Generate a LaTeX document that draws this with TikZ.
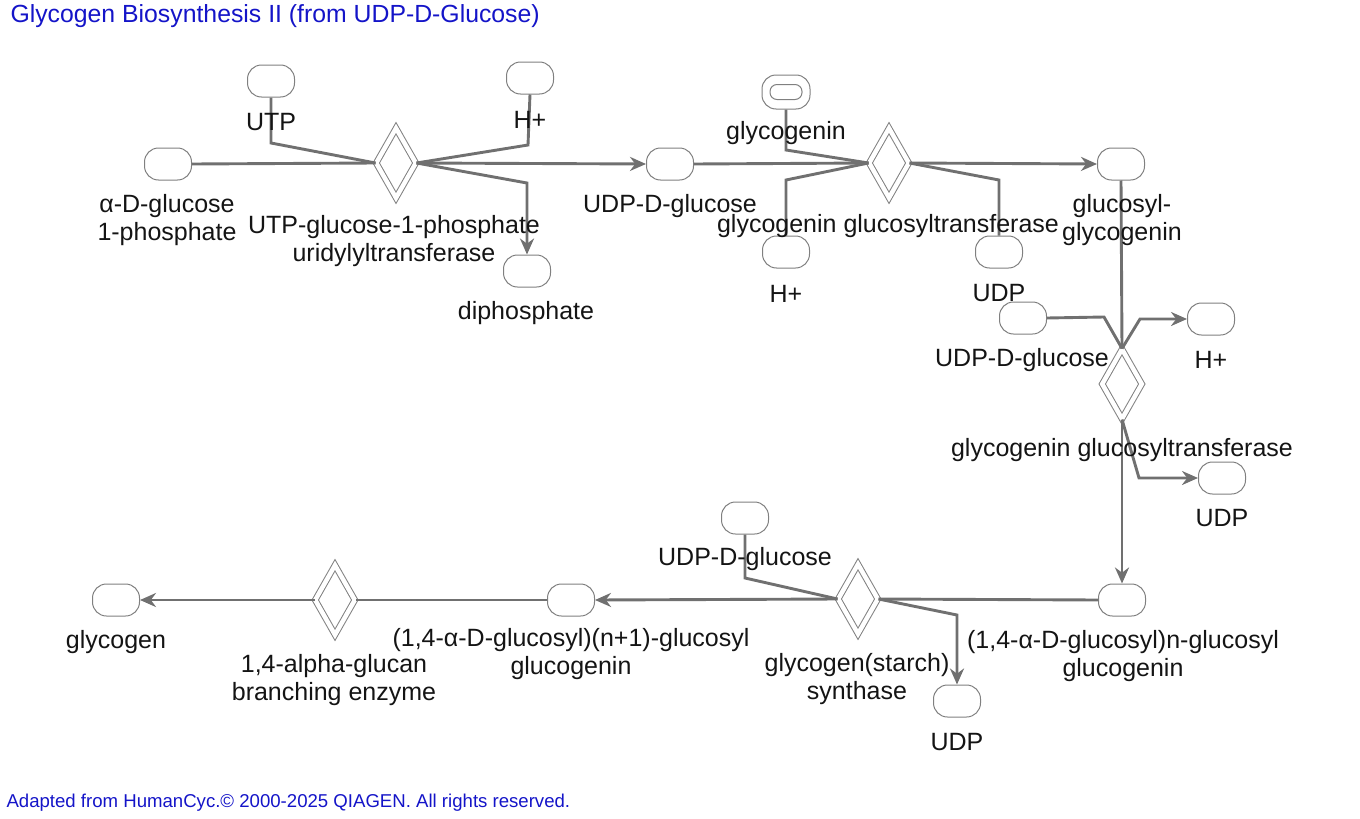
\documentclass[tikz,border=0pt]{standalone}
\usepackage{fontspec}
\setmainfont{Liberation Sans}
\usetikzlibrary{shapes.geometric,arrows.meta}
\definecolor{lnkgray}{RGB}{112,112,112}
\definecolor{ovgray}{RGB}{128,128,128}
\definecolor{ttlblue}{RGB}{20,20,200}

\begin{document}
\begin{tikzpicture}[x=1pt, y=-1pt,
	every node/.style={font=\fontsize{25}{28}\selectfont, text=black!92},
	met/.style={draw=ovgray, line width=1pt, rounded corners=14pt, minimum width=47pt, minimum height=32pt, inner sep=0pt},
	rxn/.style={diamond, draw=ovgray, line width=1pt, double=white, double distance=4.5pt, minimum width=40pt, minimum height=70pt, inner sep=0pt},
	lnk/.style={draw=lnkgray, line width=2.9pt},
	arr/.style={lnk, -{Stealth[length=16pt,width=14pt]}}]
		\useasboundingbox (0,0) rectangle (1360,819);
		\node[anchor=west, text=ttlblue, font=\fontsize{24.8}{28}\selectfont] (title) at (7,16) {Glycogen Biosynthesis II (from UDP-D-Glucose)};
		\node[anchor=west, text=ttlblue, font=\fontsize{18.6}{21}\selectfont] (foot) at (3,803) {Adapted from HumanCyc.© 2000-2025 QIAGEN. All rights reserved.};
		% metabolites
		\node[met] (agp) at (168,164) {};
		\node[met] (utp) at (271,81) {};
		\node[met] (h1) at (530,78) {};
		\node[met] (pp) at (527,271) {};
		\node[met] (udpg1) at (670,164) {};
		\node[met, minimum height=34pt, minimum width=48pt] (gn) at (786,92) {};
		\node[met, minimum width=32pt, minimum height=15pt, rounded corners=7pt] (gnin) at (786,92) {};
		\node[met] (h2) at (786,252) {};
		\node[met] (u2) at (999,252) {};
		\node[met] (gg) at (1121,164) {};
		\node[met] (ug3) at (1023,318) {};
		\node[met] (h3) at (1211,319) {};
		\node[met] (u3) at (1222,478) {};
		\node[met] (gn1) at (1122,600) {};
		\node[met] (ug4) at (745,518) {};
		\node[met] (u4) at (957,701) {};
		\node[met] (gn2) at (571,600) {};
		\node[met] (gly) at (116,600) {};
		% reactions
		\node[rxn] (r1) at (396,163) {};
		\node[rxn] (r2) at (889,163) {};
		\node[rxn] (r3) at (1122,384) {};
		\node[rxn] (r4) at (858,599) {};
		\node[rxn] (r5) at (335,600) {};
		% reaction 1
		\coordinate (utpB) at (271,143);
		\coordinate (h1B) at (528,145);
		\coordinate (ppB) at (527,183);
		\draw[lnk] (agp.east) -- (r1.west);
		\draw[lnk] (utp.south) -- (utpB) -- (r1.west);
		\draw[lnk] (r1.east) -- (h1B) -- (h1.south);
		\draw[arr] (r1.east) -- (ppB) -- (pp.north);
		\draw[arr] (r1.east) -- (udpg1.west);
		% reaction 2
		\coordinate (gnB) at (786,150);
		\coordinate (h2B) at (786,180);
		\coordinate (u2B) at (999,180);
		\draw[lnk] (udpg1.east) -- (r2.west);
		\draw[lnk] (gn.south) -- (gnB) -- (r2.west);
		\draw[lnk] (r2.west) -- (h2B) -- (h2.north);
		\draw[lnk] (r2.east) -- (u2B) -- (u2.north);
		\draw[arr] (r2.east) -- (gg.west);
		% reaction 3
		\coordinate (ug3B) at (1104,317);
		\coordinate (h3B) at (1140,319);
		\coordinate (u3B) at (1139,478);
		\draw[lnk] (gg.south) -- (r3.north);
		\draw[lnk] (ug3.east) -- (ug3B) -- (r3.north);
		\draw[arr] (r3.north) -- (h3B) -- (h3.west);
		\draw[arr] (r3.south) -- (u3B) -- (u3.west);
		\draw[arr] (r3.south) -- (gn1.north);
		% reaction 4
		\coordinate (ug4B) at (745,578);
		\coordinate (u4B) at (957,615);
		\draw[lnk] (gn1.west) -- (r4.east);
		\draw[lnk] (ug4.south) -- (ug4B) -- (r4.west);
		\draw[arr] (r4.east) -- (u4B) -- (u4.north);
		\draw[arr] (r4.west) -- (gn2.east);
		% reaction 5
		\draw[lnk] (gn2.west) -- (r5.east);
		\draw[arr] (r5.west) -- (gly.east);
		% labels
		\node[align=center] (agpT) at (167,220) {α-D-glucose\\ 1-phosphate};
		\node (utpT) at (271,122) {UTP};
		\node (h1T) at (530,120) {H+};
		\node[align=center] (r1T) at (394,241) {UTP-glucose-1-phosphate\\ uridylyltransferase};
		\node (ppT) at (526,313) {diphosphate};
		\node (udpg1T) at (670,206) {UDP-D-glucose};
		\node (gnT) at (786,133) {glycogenin};
		\node (r2T) at (888,226) {glycogenin glucosyltransferase};
		\node[align=center] (ggT) at (1122,220) {glucosyl-\\ glycogenin};
		\node (h2T) at (786,294) {H+};
		\node (u2T) at (999,293) {UDP};
		\node (ug3T) at (1022,360) {UDP-D-glucose};
		\node (h3T) at (1211,360) {H+};
		\node (r3T) at (1122,450) {glycogenin glucosyltransferase};
		\node (u3T) at (1222,518) {UDP};
		\node (ug4T) at (745,559) {UDP-D-glucose};
		\node (glyT) at (116,642) {glycogen};
		\node[align=center] (r5T) at (334,680) {1,4-alpha-glucan\\ branching enzyme};
		\node[align=center] (gn2T) at (571,654) {(1,4-α-D-glucosyl)(n+1)-glucosyl\\ glucogenin};
		\node[align=center] (r4T) at (857,679) {glycogen(starch)\\ synthase};
		\node[align=center] (gn1T) at (1123,656) {(1,4-α-D-glucosyl)n-glucosyl\\ glucogenin};
		\node (u4T) at (957,742) {UDP};
\end{tikzpicture}
\end{document}
